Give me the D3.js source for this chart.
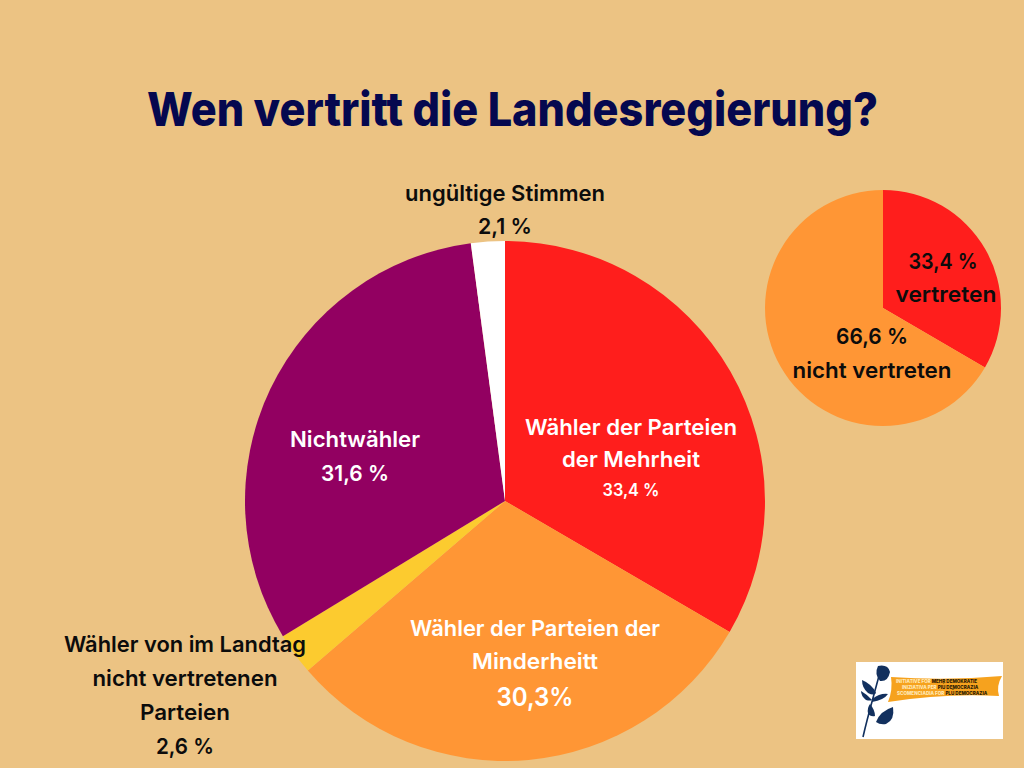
<!DOCTYPE html>
<html><head><meta charset="utf-8">
<script src="https://cdn.jsdelivr.net/npm/d3@7/dist/d3.min.js"></script>
<style>html,body{margin:0;padding:0;background:#ecc383}svg{display:block}text{font-family:"Inter","Lato","Open Sans",sans-serif}</style>
</head><body><svg id="c" width="1024" height="768"></svg>
<script>
const mainCategories=["Wähler der Parteien der Mehrheit","Wähler der Parteien der Minderheitt","Wähler von im Landtag nicht vertretenen Parteien","Nichtwähler","ungültige Stimmen"];
const mainValues=[33.4,30.3,2.6,31.6,2.1];
const mainColors=["#ff1e1c","#ff9635","#fccb2f","#920061","#ffffff"];
const sideCategories=["vertreten","nicht vertreten"];
const sideValues=[33.4,66.6];
const sideColors=["#ff1e1c","#ff9635"];
const svg=d3.select("#c");
function pie(vals,cols,cx,cy,r){
  const arcs=d3.pie().sort(null)(vals);
  const a=d3.arc().innerRadius(0).outerRadius(r);
  svg.append("g").attr("transform",`translate(${cx},${cy})`).selectAll("path").data(arcs).join("path").attr("d",a).attr("fill",(d,i)=>cols[i]);
}
pie(mainValues,mainColors,505,501,260);
pie(sideValues,sideColors,883,308,118);
function t(s,x,y,size,fill,width,weight){
  svg.append("text").attr("x",x).attr("y",y).attr("text-anchor","middle").attr("font-size",size).attr("fill",fill).attr("font-weight",weight||600)
   .attr("textLength",width).attr("lengthAdjust","spacingAndGlyphs").text(s);
}
t("Wen vertritt die Landesregierung?",512.5,126,47,"#05084f",731,800);
const dark="#0c0c0c",w="#fff";
t("ungültige Stimmen",505,201,22,dark,200);
t("2,1 %",505,234,22,dark,54);
t("Wähler der Parteien",631,435,22,w,212);
t("der Mehrheit",631,467,22,w,138);
t("33,4 %",631,496,17,w,57);
t("Nichtwähler",355,447,22,w,130);
t("31,6 %",355,481,22,w,68);
t("Wähler der Parteien der",535,636,22,w,250);
t("Minderheitt",535,669,22,w,126);
t("30,3%",535,706,26,w,77);
t("Wähler von im Landtag",185,652,22,dark,242);
t("nicht vertretenen",185,686,22,dark,185);
t("Parteien",185,720,22,dark,90);
t("2,6 %",185,754,22,dark,58);
t("33,4 %",943,269,22,dark,69);
t("vertreten",946,302,22,dark,101);
t("66,6 %",872,344,22,dark,72);
t("nicht vertreten",872,378,22,dark,159);
// logo
const navy="#12305e";
const logo=svg.append("g");
logo.append("rect").attr("x",856).attr("y",662).attr("width",147).attr("height",77).attr("fill","#fff");
logo.append("path").attr("d","M891 677 Q945 681 1002 676 Q996 686 999 696 Q945 693 888 702 Q893 690 891 677 Z").attr("fill","#f6a21e");
logo.append("path").attr("d","M880 672 C874 695 868 715 863 737").attr("fill","none").attr("stroke",navy).attr("stroke-width",1.6);
logo.append("path").attr("d","M878 666 Q888 664 890 672 Q888 682 880 681 Q874 674 878 666 Z").attr("fill",navy);
logo.append("path").attr("d","M862 680 Q872 684 876 693 Q874 696 868 693 Q862 688 862 680 Z").attr("fill",navy);
logo.append("path").attr("d","M861 691 Q868 695 872 700 Q870 701 866 700 Q861 696 861 691 Z").attr("fill",navy);
logo.append("path").attr("d","M872 699 Q880 693 888 694 Q884 700 872 702 Z").attr("fill",navy);
logo.append("path").attr("d","M870 704 Q875 710 875 716 Q870 717 868 713 Q867 708 870 704 Z").attr("fill",navy);
logo.append("path").attr("d","M876 722 Q880 711 893 707 Q895 720 886 724 Q880 725 876 722 Z").attr("fill",navy);
[["INITIATIVE FOR","MEHR DEMOKRATIE",683,896],["INIZIATIVA PER","PIÙ DEMOCRAZIA",689,902],["SCOMENCIADIA FOR","PLÜ DEMOCRAZIA",695,897]].forEach(([a,b,y,x])=>{
 const tx=logo.append("text").attr("x",x).attr("y",y).attr("font-size",4.6).attr("font-weight",800);
 tx.append("tspan").attr("fill","#ffe9b8").text(a+" ");
 tx.append("tspan").attr("fill","#2b1a05").text(b);
});
</script></body></html>
